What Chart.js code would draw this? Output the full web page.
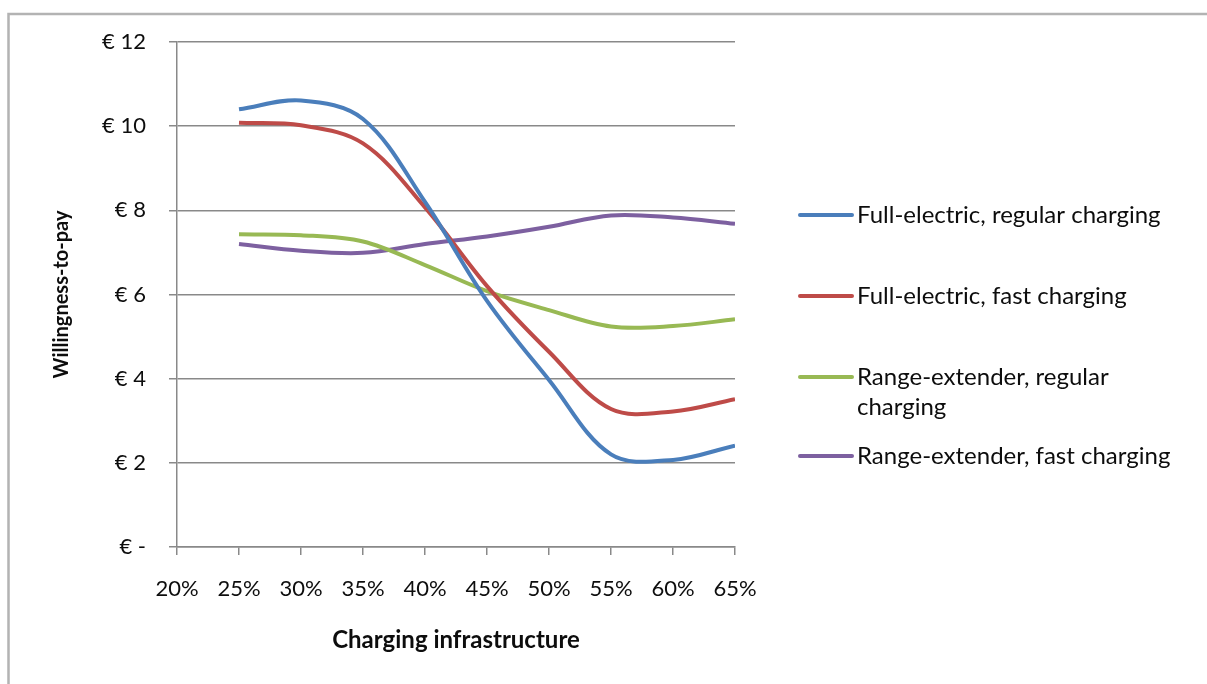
<!DOCTYPE html>
<html>
<head>
<meta charset="utf-8">
<script src="https://cdn.jsdelivr.net/npm/chart.js@4.4.1/dist/chart.umd.min.js"></script>
<style>
  html, body { margin: 0; padding: 0; background: #fff; }
  #wrap { width: 1207px; height: 684px; }
</style>
</head>
<body>
<div id="wrap"><canvas id="grafica" width="1207" height="684"></canvas></div>
<script>
// charging infrastructure coverage (%)
const coverage = [25, 30, 35, 40, 45, 50, 55, 60, 65];

// willingness-to-pay (EUR) per vehicle type / charging option
const fullRegular = [10.40, 10.61, 10.17, 8.20, 5.85, 3.97, 2.20, 2.07, 2.41];
const fullFast    = [10.08, 10.02, 9.59, 8.07, 6.20, 4.64, 3.28, 3.22, 3.51];
const rangeRegular = [7.43, 7.41, 7.26, 6.70, 6.08, 5.63, 5.24, 5.25, 5.41];
const rangeFast    = [7.20, 7.04, 6.99, 7.20, 7.38, 7.61, 7.88, 7.83, 7.68];

const seriesNames = [
  'Full-electric, regular charging',
  'Full-electric, fast charging',
  'Range-extender, regular charging',
  'Range-extender, fast charging'
];
const seriesColors = ['#4a7ebb', '#be4b48', '#98b954', '#7d60a0'];

const yTicks = [0, 2, 4, 6, 8, 10, 12];
const xTicks = [20, 25, 30, 35, 40, 45, 50, 55, 60, 65];

const gridColor = '#898989';
const textColor = '#0d0d0d';
const fontFamily = 'Lato, "Noto Sans", sans-serif';

Chart.defaults.font.family = fontFamily;
Chart.defaults.font.size = 22;
Chart.defaults.color = textColor;

function puntos(valores) {
  return coverage.map((x, i) => ({ x: x, y: valores[i] }));
}

// thin grey frame round the chart object
const marco = {
  id: 'marco',
  beforeDraw(chart) {
    const ctx = chart.ctx;
    ctx.save();
    ctx.strokeStyle = '#b3b3b3';
    ctx.lineWidth = 2.5;
    ctx.beginPath();
    ctx.moveTo(8.5, 684);
    ctx.lineTo(8.5, 14);
    ctx.lineTo(1207, 14);
    ctx.stroke();
    ctx.restore();
  }
};

// legend on the right, one row per series, long names wrap
const leyendaRows = [215, 296, 377, 456];
const leyenda = {
  id: 'leyenda',
  afterDraw(chart) {
    const ctx = chart.ctx;
    ctx.save();
    ctx.font = '24px ' + fontFamily;
    ctx.textBaseline = 'middle';
    chart.data.datasets.forEach((ds, i) => {
      const y = leyendaRows[i];
      ctx.strokeStyle = ds.borderColor;
      ctx.lineWidth = 4;
      ctx.lineCap = 'round';
      ctx.beginPath();
      ctx.moveTo(800, y);
      ctx.lineTo(852, y);
      ctx.stroke();

      ctx.fillStyle = textColor;
      const palabras = ds.label.split(' ');
      const lineas = [];
      let actual = '';
      palabras.forEach(p => {
        const prueba = actual ? actual + ' ' + p : p;
        if (actual && ctx.measureText(prueba).width > 335) {
          lineas.push(actual);
          actual = p;
        } else {
          actual = prueba;
        }
      });
      lineas.push(actual);
      lineas.forEach((t, k) => ctx.fillText(t, 857, y + k * 30));
    });
    ctx.restore();
  }
};

const ctx = document.getElementById('grafica').getContext('2d');
new Chart(ctx, {
  type: 'line',
  data: {
    datasets: [fullRegular, fullFast, rangeRegular, rangeFast].map((v, i) => ({
      label: seriesNames[i],
      data: puntos(v),
      borderColor: seriesColors[i],
      backgroundColor: seriesColors[i],
      borderWidth: 4,
      pointRadius: 0,
      fill: false,
      tension: 0.35
    }))
  },
  options: {
    responsive: false,
    animation: false,
    layout: {
      padding: { top: 42, right: 472, left: 0, bottom: 0 }
    },
    plugins: {
      legend: { display: false },
      tooltip: { enabled: false }
    },
    scales: {
      x: {
        type: 'linear',
        min: 20,
        max: 65,
        afterBuildTicks: s => { s.ticks = xTicks.map(v => ({ value: v })); },
        afterFit: s => { s.height = 137; },
        ticks: {
          padding: 21,
          maxRotation: 0,
          callback: v => v + '%'
        },
        grid: {
          drawOnChartArea: false,
          drawTicks: true,
          tickLength: 8,
          color: gridColor,
          lineWidth: 1.5
        },
        border: { display: true, color: gridColor, width: 1.5 },
        title: {
          display: true,
          text: 'Charging infrastructure',
          font: { weight: 'bold', size: 24 },
          padding: { top: 0, bottom: 29 }
        }
      },
      y: {
        min: 0,
        max: 12,
        afterBuildTicks: s => { s.ticks = yTicks.map(v => ({ value: v })); },
        afterFit: s => { s.width = 177; },
        ticks: {
          padding: 23,
          callback: v => v === 0 ? '€ -' : '€ ' + v
        },
        grid: {
          drawTicks: true,
          tickLength: 8,
          color: gridColor,
          lineWidth: 1.5
        },
        border: { display: true, color: gridColor, width: 1.5 },
        title: {
          display: true,
          text: 'Willingness-to-pay',
          font: { weight: 'bold', size: 20 },
          padding: { top: 50, bottom: 0 }
        }
      }
    }
  },
  plugins: [marco, leyenda]
});
</script>
</body>
</html>
